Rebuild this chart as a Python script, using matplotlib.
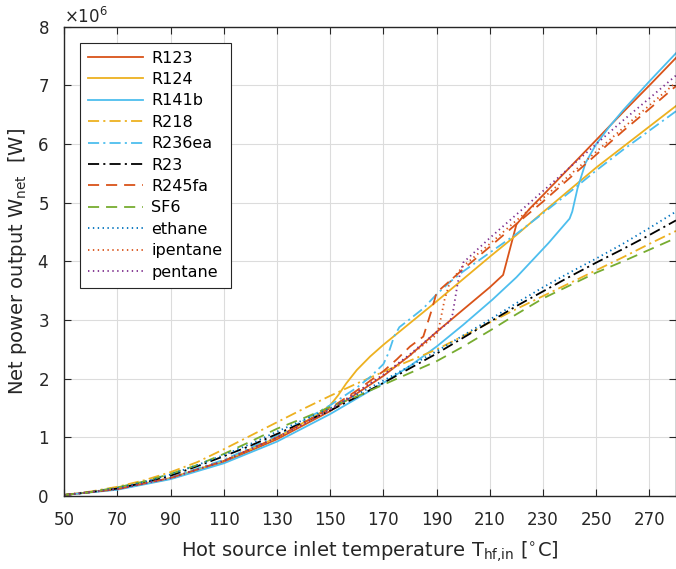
import numpy as np
import matplotlib
matplotlib.use("Agg")
import matplotlib.pyplot as plt

plt.rcParams['font.family'] = ['DejaVu Sans']
plt.rcParams['mathtext.default'] = 'regular'
plt.rcParams['lines.scale_dashes'] = False

#################################
######## Data ####
#################################
# temperatures [C] and net power [x1e6 W] for each working fluid
t_r123 = [50, 70, 90, 110, 130, 150, 170, 180, 190, 200, 210, 215, 220, 225, 230, 240, 250, 260, 270, 280]
w_r123 = [0.02, 0.12, 0.30, 0.58, 0.97, 1.45, 2.05, 2.40, 2.80, 3.18, 3.56, 3.77, 4.63, 4.90, 5.13, 5.60, 6.07, 6.54, 7.00, 7.47]

t_r124 = [50, 70, 90, 110, 130, 145, 150, 153, 156, 160, 165, 170, 180, 190, 200, 210, 220, 230, 240, 250, 260, 270, 280]
w_r124 = [0.02, 0.12, 0.31, 0.60, 1.00, 1.38, 1.55, 1.72, 1.92, 2.15, 2.38, 2.58, 2.95, 3.32, 3.70, 4.08, 4.45, 4.84, 5.22, 5.60, 5.95, 6.30, 6.65]

t_r141b = [50, 70, 90, 110, 130, 150, 170, 180, 190, 200, 211, 220, 232, 240, 241, 243, 246, 250, 255, 260, 270, 280]
w_r141b = [0.02, 0.11, 0.29, 0.56, 0.93, 1.40, 1.93, 2.22, 2.55, 2.92, 3.35, 3.73, 4.31, 4.73, 4.85, 5.25, 5.68, 6.00, 6.30, 6.57, 7.07, 7.55]

t_r218 = [50, 60, 70, 80, 90, 100, 110, 120, 130, 140, 150, 160, 170, 180, 190, 200, 210, 220, 230, 240, 250, 260, 270, 280]
w_r218 = [0.02, 0.08, 0.16, 0.27, 0.41, 0.58, 0.80, 1.03, 1.26, 1.49, 1.71, 1.92, 2.12, 2.31, 2.50, 2.73, 2.96, 3.19, 3.41, 3.63, 3.85, 4.07, 4.30, 4.52]

t_r236ea = [50, 70, 90, 110, 130, 150, 160, 165, 170, 172, 174, 176, 180, 185, 190, 195, 200, 210, 220, 230, 240, 250, 260, 270, 280]
w_r236ea = [0.02, 0.12, 0.32, 0.62, 1.03, 1.55, 1.85, 2.03, 2.25, 2.45, 2.72, 2.88, 3.02, 3.20, 3.44, 3.65, 3.83, 4.15, 4.47, 4.82, 5.18, 5.55, 5.90, 6.23, 6.56]

t_r23 = [50, 60, 70, 80, 90, 100, 110, 120, 130, 140, 150, 160, 170, 180, 190, 200, 210, 220, 230, 240, 250, 260, 270, 280]
w_r23 = [0.02, 0.07, 0.13, 0.23, 0.35, 0.51, 0.68, 0.86, 1.06, 1.26, 1.46, 1.69, 1.93, 2.18, 2.43, 2.70, 2.97, 3.24, 3.49, 3.74, 3.98, 4.21, 4.45, 4.70]

t_r245fa = [50, 70, 90, 110, 130, 150, 160, 170, 175, 180, 185, 188, 190, 200, 210, 220, 230, 240, 250, 260, 270, 280]
w_r245fa = [0.02, 0.12, 0.31, 0.60, 1.00, 1.50, 1.80, 2.13, 2.33, 2.55, 2.72, 3.15, 3.47, 3.87, 4.25, 4.64, 5.02, 5.42, 5.82, 6.22, 6.60, 6.99]

t_sf6 = [50, 60, 70, 80, 90, 100, 110, 120, 130, 140, 150, 160, 170, 180, 190, 200, 210, 220, 230, 240, 250, 260, 270, 280]
w_sf6 = [0.02, 0.07, 0.15, 0.25, 0.38, 0.53, 0.72, 0.93, 1.15, 1.33, 1.52, 1.70, 1.90, 2.10, 2.30, 2.55, 2.82, 3.10, 3.37, 3.59, 3.81, 4.00, 4.20, 4.40]

t_ethane = [50, 60, 70, 80, 90, 100, 110, 120, 130, 140, 150, 160, 170, 180, 190, 200, 210, 220, 230, 240, 250, 260, 270, 280]
w_ethane = [0.02, 0.07, 0.14, 0.24, 0.37, 0.53, 0.70, 0.89, 1.10, 1.30, 1.50, 1.73, 1.97, 2.22, 2.47, 2.74, 3.01, 3.29, 3.56, 3.81, 4.05, 4.30, 4.57, 4.85]

t_ipentane = [50, 70, 90, 110, 130, 150, 170, 180, 190, 191, 193, 195, 200, 210, 220, 230, 240, 250, 260, 270, 280]
w_ipentane = [0.02, 0.12, 0.31, 0.60, 1.00, 1.48, 2.07, 2.40, 2.75, 2.90, 3.35, 3.65, 3.92, 4.30, 4.70, 5.08, 5.47, 5.87, 6.27, 6.66, 7.05]

t_pentane = [50, 70, 90, 110, 130, 150, 170, 180, 190, 195, 196, 198, 200, 210, 220, 230, 240, 250, 260, 270, 280]
w_pentane = [0.02, 0.12, 0.31, 0.60, 1.00, 1.47, 2.07, 2.42, 2.80, 2.98, 3.10, 3.65, 3.98, 4.40, 4.80, 5.20, 5.60, 6.00, 6.40, 6.78, 7.17]

# MATLAB default colours
c_blue = '#0072BD'
c_red = '#D95319'
c_yel = '#EDB120'
c_pur = '#7E2F8E'
c_grn = '#77AC30'
c_cyan = '#4DBEEE'

dash = (0, (8, 5))
dashdot = (0, (8, 3, 1.5, 3))
dot = (0, (1, 2.5))

series = [
    ('R123', t_r123, w_r123, c_red, '-'),
    ('R124', t_r124, w_r124, c_yel, '-'),
    ('R141b', t_r141b, w_r141b, c_cyan, '-'),
    ('R218', t_r218, w_r218, c_yel, dashdot),
    ('R236ea', t_r236ea, w_r236ea, c_cyan, dashdot),
    ('R23', t_r23, w_r23, 'black', dashdot),
    ('R245fa', t_r245fa, w_r245fa, c_red, dash),
    ('SF6', t_sf6, w_sf6, c_grn, dash),
    ('ethane', t_ethane, w_ethane, c_blue, dot),
    ('ipentane', t_ipentane, w_ipentane, c_red, dot),
    ('pentane', t_pentane, w_pentane, c_pur, dot),
]

#################################
######## Plot ###################
#################################
fig = plt.figure(figsize=(6.76, 5.69), dpi=100)
ax = fig.add_axes([0.095, 0.128, 0.905, 0.825])

for name, t, w, col, ls in series:
    ax.plot(t, np.array(w) * 1e6, color=col, linestyle=ls, linewidth=1.3, label=name)

ax.set_xlim(50, 280)
ax.set_ylim(0, 8e6)
ax.set_xticks(np.arange(50, 271, 20))
ax.set_yticks(np.arange(0, 8.1e6, 1e6))
ax.ticklabel_format(axis='y', style='sci', scilimits=(6, 6), useMathText=True)

ax.grid(True, color='#dcdcdc', linewidth=0.8)
ax.set_axisbelow(True)
ax.tick_params(direction='in', top=True, right=True, labelsize=12,
               colors='#262626', length=5, width=0.8)
ax.tick_params(axis='x', pad=11)
ax.tick_params(axis='y', pad=11)
for sp in ax.spines.values():
    sp.set_color('#262626')
    sp.set_linewidth(1.0)
ax.yaxis.get_offset_text().set_fontsize(12)

ax.set_xlabel('Hot source inlet temperature T$_{hf{,}in}$ [$^{\\circ}$C]', fontsize=14,
              color='#262626', labelpad=7)
ax.set_ylabel('Net power output W$_{net}$  [W]', fontsize=14, color='#262626', labelpad=6)

leg = ax.legend(loc='upper left', bbox_to_anchor=(0.012, 0.983), fontsize=11.5,
                fancybox=False, framealpha=1, edgecolor='#262626',
                handlelength=3.5, handletextpad=0.5, labelspacing=0.4, borderpad=0.5)
leg.get_frame().set_linewidth(0.8)

plt.savefig('out.png', dpi=100)
